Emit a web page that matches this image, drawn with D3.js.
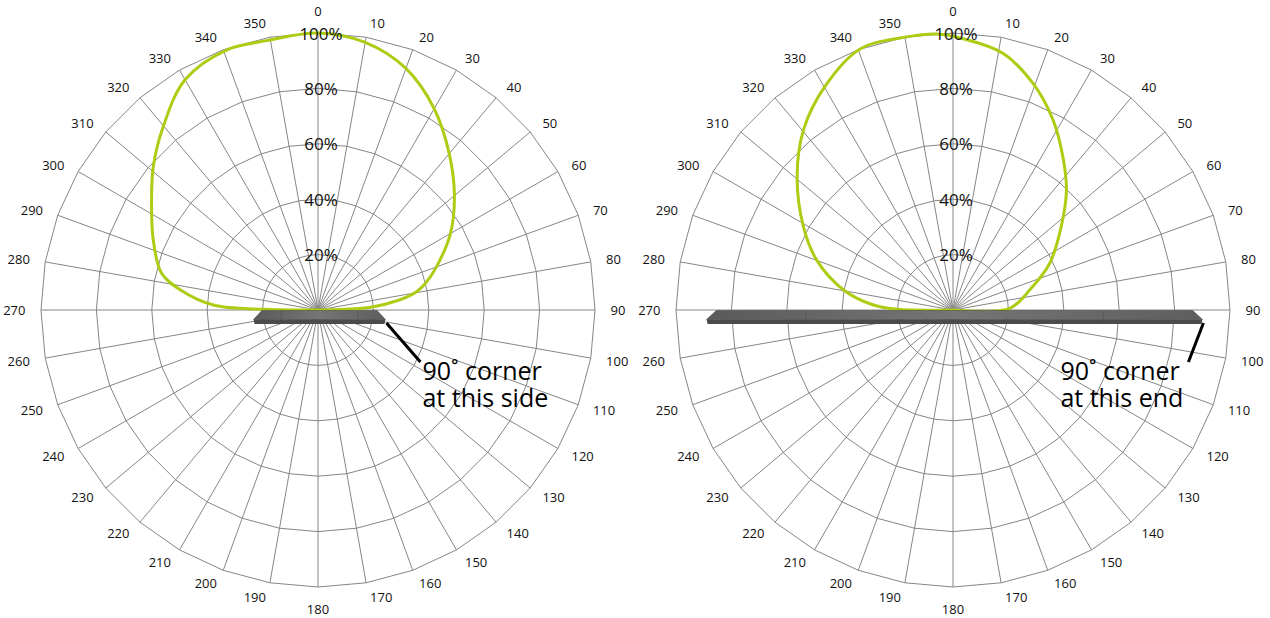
<!DOCTYPE html>
<html>
<head>
<meta charset="utf-8">
<script src="https://cdn.jsdelivr.net/npm/d3@7"></script>
<style>
  body { margin: 0; background: #fff; }
  svg { display: block; }
</style>
</head>
<body>
<svg id="chart" width="1270" height="618"></svg>
<script>
// spoke labels (degrees)
var tickAngles = [0, 10, 20, 30, 40, 50, 60, 70, 80, 90, 100, 110, 120, 130, 140, 150, 160, 170,
                  180, 190, 200, 210, 220, 230, 240, 250, 260, 270, 280, 290, 300, 310, 320, 330, 340, 350];
var tickLabels = tickAngles.map(function(a) { return String(a); });
var ringLevels = [20, 40, 60, 80, 100];
var ringLabels = ["20%", "40%", "60%", "80%", "100%"];

// left chart: beam from the side (angle in degrees, relative intensity %)
var sideAngles = [-90, -89.3, -87.3, -81.8, -76.8, -67, -58.2, -49, -40.2, -30, -19.4, -10.8, 0,
                  10, 20, 30, 40, 50, 60, 70, 76, 80.2, 86.7, 90];
var sideValues = [0, 20, 37.8, 50, 58, 64.6, 70.7, 78.8, 86.6, 96, 99.5, 99, 100,
                  98.1, 92.8, 83.9, 73.7, 64.3, 55.2, 45.5, 40, 35.2, 20, 0];

// right chart: beam from the end
var endAngles = [-90, -89.3, -86.4, -79.7, -69.9, -60.9, -49.5, -39.7, -29.8, -19.6, -9.6, -3.4,
                 2.1, 11, 19.4, 27.8, 35.7, 43.4, 52.4, 64.2, 75.4, 88.3, 90];
var endValues = [0, 20, 28.8, 40, 52.4, 61.8, 74, 84.5, 93, 100, 100, 99.8,
                 98, 94.4, 86.8, 77.5, 68, 59.6, 49.3, 38.8, 28.6, 20.5, 0];

// fixture slab half widths (in % of radius): top face, bottom face
var barTopHalf = [20.8, 86];
var barBottomHalf = [23.8, 89.5];
var noteLines = [["90˚ corner", "at this side"], ["90˚ corner", "at this end"]];

var CY = 310;
var R = 277;
var svg = d3.select("#chart");

var defs = svg.append("defs");
var grad = defs.append("linearGradient").attr("id", "slabTop");
grad.append("stop").attr("offset", "0%").attr("stop-color", "#5a5a5a");
grad.append("stop").attr("offset", "50%").attr("stop-color", "#757575");
grad.append("stop").attr("offset", "100%").attr("stop-color", "#5e5e5e");

var r = d3.scaleLinear().domain([0, 100]).range([0, R]);

function pt(angleDeg, radius) {
  var a = angleDeg * Math.PI / 180;
  return [Math.sin(a) * radius, -Math.cos(a) * radius];
}

// excel-like label placement: beside the spoke end, pushed outwards
function labelPos(a) {
  var p = pt(a, 291);
  if (a === 0) return { x: 0, y: -299, anchor: "middle" };
  if (a === 180) return { x: 0, y: 298.5, anchor: "middle" };
  if (a < 180) return { x: p[0] + 1.5, y: p[1], anchor: "start" };
  return { x: p[0] - 1.5, y: p[1], anchor: "end" };
}

function drawChart(cx, angles, values, idx, leftSide) {
  var g = svg.append("g").attr("transform", "translate(" + cx + "," + CY + ")");

  // rings (36-gons)
  ringLevels.forEach(function(lv) {
    var pts = tickAngles.map(function(a) { return pt(a, r(lv)); });
    g.append("polygon")
      .attr("points", pts.map(function(p) { return p.join(","); }).join(" "))
      .attr("fill", "none")
      .attr("stroke", "#868686")
      .attr("stroke-width", 1);
  });

  // spokes
  g.selectAll("line.spoke")
    .data(tickAngles)
    .enter().append("line")
    .attr("class", "spoke")
    .attr("x1", 0).attr("y1", 0)
    .attr("x2", function(d) { return pt(d, r(100))[0]; })
    .attr("y2", function(d) { return pt(d, r(100))[1]; })
    .attr("stroke", "#868686")
    .attr("stroke-width", 1);

  // spoke labels
  g.selectAll("text.tick")
    .data(tickAngles)
    .enter().append("text")
    .attr("class", "tick")
    .attr("x", function(d) { return labelPos(d).x; })
    .attr("y", function(d) { return labelPos(d).y; })
    .attr("text-anchor", function(d) { return labelPos(d).anchor; })
    .attr("dominant-baseline", "central")
    .style("font-family", "'Open Sans', sans-serif")
    .style("font-size", "13px")
    .style("fill", "#111")
    .text(function(d, i) { return tickLabels[i]; });

  // intensity curve
  var data = angles.map(function(a, i) { return [a, values[i]]; });
  var line = d3.lineRadial()
    .angle(function(d) { return d[0] * Math.PI / 180; })
    .radius(function(d) { return r(d[1]); })
    .curve(d3.curveCatmullRom.alpha(0.5));
  g.append("path")
    .attr("d", line(data))
    .attr("fill", "none")
    .attr("stroke", "#abcd14")
    .attr("stroke-width", 3)
    .attr("stroke-linejoin", "round");

  // fixture slab
  var tx = r(barTopHalf[idx]), bx = r(barBottomHalf[idx]);
  var off = 1.5;
  g.append("path")
    .attr("d", "M" + (off - tx) + ",0.5 L" + (off + tx) + ",0.5 L" + (off + bx) + ",9.5 L" + (off - bx) + ",9.5 Z")
    .attr("fill", "url(#slabTop)")
    .attr("stroke", "#4a4a4a")
    .attr("stroke-width", 0.6);
  g.append("path")
    .attr("d", "M" + (off - bx) + ",9.5 L" + (off + bx) + ",9.5 L" + (off + bx - 1) + ",14 L" + (off - bx + 1) + ",14 Z")
    .attr("fill", "#4b4b4b");
  [-1, 1].forEach(function(s) {
    var sx = off + s * (tx * 0.62 + 0.2 * R * (idx === 0 ? 0.04 : 0.01));
    g.append("line")
      .attr("x1", sx).attr("y1", 1).attr("x2", sx + s * 1).attr("y2", 13)
      .attr("stroke", "#3e3e3e").attr("stroke-width", 0.7).attr("opacity", 0.5);
  });

  // percentage labels
  g.selectAll("text.ring")
    .data(ringLevels)
    .enter().append("text")
    .attr("class", "ring")
    .attr("x", 3)
    .attr("y", function(d) { return -r(d); })
    .attr("text-anchor", "middle")
    .attr("dominant-baseline", "central")
    .style("font-family", "'Open Sans', sans-serif")
    .style("font-size", "17px")
    .style("fill", "#111")
    .text(function(d, i) { return ringLabels[i]; });

  // pointer and note (one text block, two lines)
  var sx0 = off + bx + 1, sy0 = 13;
  var ex, ey = 52, tx0;
  if (leftSide) { ex = sx0 + 34; tx0 = ex + 2; }
  else { ex = sx0 - 15; tx0 = ex - 128; }
  g.append("line")
    .attr("x1", sx0).attr("y1", sy0).attr("x2", ex).attr("y2", ey)
    .attr("stroke", "#000").attr("stroke-width", 3);
  var note = g.append("text")
    .attr("x", tx0)
    .attr("y", 70)
    .attr("text-anchor", "start")
    .style("font-family", "'Open Sans', sans-serif")
    .style("font-size", "25px")
    .style("fill", "#000");
  noteLines[idx].forEach(function(t, i) {
    note.append("tspan")
      .attr("x", tx0)
      .attr("dy", i === 0 ? 0 : 27)
      .text(t);
  });
}

drawChart(318, sideAngles, sideValues, 0, true);
drawChart(953, endAngles, endValues, 1, false);
</script>
</body>
</html>
